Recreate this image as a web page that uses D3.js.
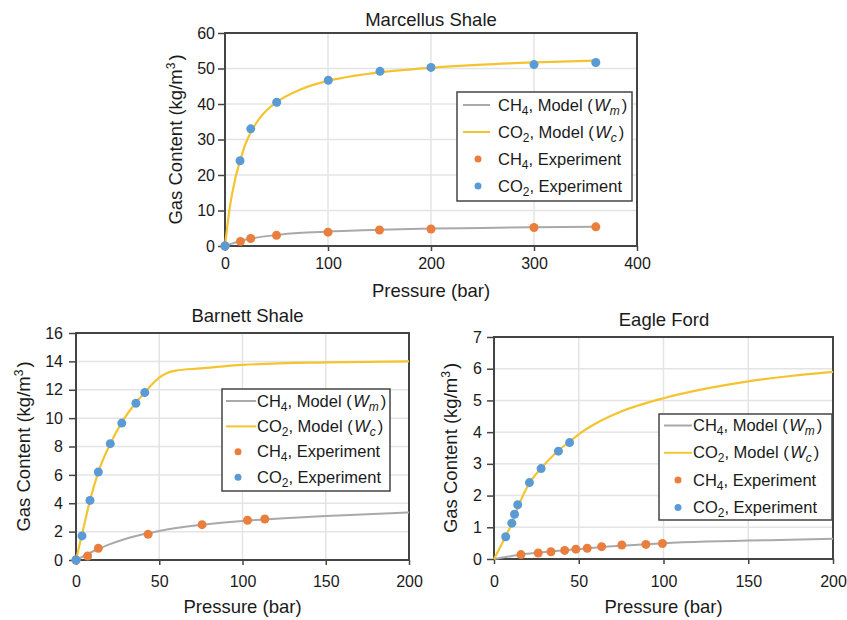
<!DOCTYPE html>
<html>
<head>
<meta charset="utf-8">
<script src="https://cdn.jsdelivr.net/npm/d3@7"></script>
<style>
  body { margin: 0; background: #fff; }
  svg { display: block; font-family: "Liberation Sans", Arial, Helvetica, sans-serif; }
</style>
</head>
<body>
<svg id="chart" width="847" height="620"></svg>
<script>
// --- Data: [pressure (bar), gas content (kg/m3)] ---
const marcellusCh4Model = [[0, 0], [5, 0.5], [10, 1.0], [15, 1.4], [25, 2.1], [50, 3.1], [75, 3.7], [100, 4.1], [150, 4.6], [200, 4.9], [250, 5.1], [300, 5.3], [360, 5.45]];
const marcellusCo2Model = [[0, 0], [5, 11.5], [10, 19], [15, 24.3], [20, 28.8], [25, 32], [35, 36.5], [50, 40.5], [75, 44.3], [100, 46.5], [125, 47.9], [150, 48.9], [200, 50.2], [250, 51.1], [300, 51.7], [360, 52.2]];
const marcellusCh4Exp = [[0, 0], [15, 1.3], [25, 2.1], [50, 3.0], [100, 3.9], [150, 4.5], [200, 4.8], [300, 5.2], [360, 5.4]];
const marcellusCo2Exp = [[0, 0], [14.6, 24], [25, 33], [50.2, 40.5], [100.3, 46.7], [150.5, 49.2], [200, 50.3], [300, 51.1], [360, 51.7]];

const barnettCh4Model = [[0, 0], [5, 0.3], [10, 0.6], [20, 1.1], [30, 1.5], [43, 1.88], [50, 2.05], [75, 2.47], [100, 2.75], [125, 2.95], [150, 3.1], [175, 3.22], [200, 3.35]];
const barnettCo2Model = [[0, 0], [3.6, 1.8], [8.4, 4.2], [13.4, 6.2], [20.6, 8.2], [27.5, 9.7], [36, 11.1], [41.3, 11.8], [45, 12.3], [50, 12.85], [55, 13.2], [60, 13.35], [75, 13.5], [100, 13.75], [150, 13.93], [200, 14.0]];
const barnettCh4Exp = [[0, 0], [7, 0.28], [13.4, 0.82], [43.3, 1.81], [75.7, 2.49], [103, 2.8], [113.4, 2.89]];
const barnettCo2Exp = [[0, 0], [3.6, 1.7], [8.4, 4.2], [13.4, 6.2], [20.6, 8.2], [27.5, 9.65], [36, 11.05], [41.3, 11.8]];

const eagleCh4Model = [[0, 0], [10, 0.09], [16, 0.14], [26, 0.2], [40, 0.27], [50, 0.31], [64, 0.38], [75, 0.42], [100, 0.5], [125, 0.55], [150, 0.58], [175, 0.61], [200, 0.64]];
const eagleCo2Model = [[0, 0], [6.9, 0.72], [10.5, 1.12], [14, 1.62], [20.8, 2.38], [27.8, 2.86], [38, 3.42], [45, 3.72], [50, 3.93], [60, 4.27], [75, 4.65], [100, 5.07], [125, 5.37], [150, 5.6], [175, 5.77], [200, 5.9]];
const eagleCh4Exp = [[15.9, 0.14], [26.1, 0.19], [33.6, 0.23], [41.7, 0.27], [48.3, 0.31], [55, 0.34], [63.5, 0.39], [75.4, 0.44], [89.6, 0.46], [99.4, 0.49]];
const eagleCo2Exp = [[6.9, 0.70], [10.5, 1.13], [12.1, 1.41], [14, 1.71], [20.9, 2.41], [27.8, 2.85], [38, 3.40], [44.6, 3.67]];

// tick labels
const marcellusXTicks = [0, 100, 200, 300, 400];
const marcellusYTicks = [0, 10, 20, 30, 40, 50, 60];
const barnettXTicks = [0, 50, 100, 150, 200];
const barnettYTicks = [0, 2, 4, 6, 8, 10, 12, 14, 16];
const eagleXTicks = [0, 50, 100, 150, 200];
const eagleYTicks = [0, 1, 2, 3, 4, 5, 6, 7];

// legend entries: text pieces, kind = sub / i / isub
const legendEntries = [
    { type: "line", color: "#a9a9a9", parts: [["CH"], ["4", "sub"], [", Model ("], ["W", "i"], ["m", "isub"], [")"]] },
    { type: "line", color: "#f4c430", parts: [["CO"], ["2", "sub"], [", Model ("], ["W", "i"], ["c", "isub"], [")"]] },
    { type: "dot", color: "#ea7f3d", parts: [["CH"], ["4", "sub"], [", Experiment"]] },
    { type: "dot", color: "#5b9bd5", parts: [["CO"], ["2", "sub"], [", Experiment"]] }
];

const COLORS = { ch4Line: "#a9a9a9", co2Line: "#f4c430", ch4Dot: "#ea7f3d", co2Dot: "#5b9bd5", frame: "#444", grid: "#e4e4e4" };

const svg = d3.select("#chart");

// --- Panels ---
const panels = [
    {
        title: "Marcellus Shale", titleX: 431, titleY: 25.5,
        left: 225, right: 637, top: 33, bottom: 246,
        xMax: 400, yMax: 60, xTicks: marcellusXTicks, yTicks: marcellusYTicks,
        xPad: 12, yPad: 10, xTitleY: 297, yTitleX: 182,
        ch4Model: marcellusCh4Model, co2Model: marcellusCo2Model, ch4Exp: marcellusCh4Exp, co2Exp: marcellusCo2Exp,
        legend: { x: 457, y: 92, w: 175, h: 109, row0: 105, step: 27, lineX0: 463, lineX1: 490, dotX: 478, textX: 498 }
    },
    {
        title: "Barnett Shale", titleX: 247.5, titleY: 322,
        left: 76, right: 409, top: 333, bottom: 560,
        xMax: 200, yMax: 16, xTicks: barnettXTicks, yTicks: barnettYTicks,
        xPad: 16, yPad: 13, xTitleY: 612.5, yTitleX: 30,
        ch4Model: barnettCh4Model, co2Model: barnettCo2Model, ch4Exp: barnettCh4Exp, co2Exp: barnettCo2Exp,
        legend: { x: 222, y: 389, w: 168, h: 102, row0: 401, step: 25.4, lineX0: 226, lineX1: 256, dotX: 238, textX: 257 }
    },
    {
        title: "Eagle Ford", titleX: 664, titleY: 326,
        left: 494, right: 833, top: 337, bottom: 559,
        xMax: 200, yMax: 7, xTicks: eagleXTicks, yTicks: eagleYTicks,
        xPad: 17, yPad: 12, xTitleY: 612.5, yTitleX: 457,
        ch4Model: eagleCh4Model, co2Model: eagleCo2Model, ch4Exp: eagleCh4Exp, co2Exp: eagleCo2Exp,
        legend: { x: 659, y: 414, w: 173, h: 106, row0: 425.5, step: 27.3, lineX0: 664, lineX1: 692, dotX: 678, textX: 693 }
    }
];

// writes text with sub/superscripts and italics as tspans
function richText(sel, parts, subSize) {
    let shift = 0;
    parts.forEach(([t, kind]) => {
        const ts = sel.append("tspan").text(t);
        let target = 0;
        if (kind && kind.includes("sub")) target = 4;
        if (kind === "sup") target = -7;
        ts.attr("dy", target - shift);
        shift = target;
        if (kind && kind !== "i") ts.attr("font-size", subSize);
        if (kind && kind.startsWith("i")) ts.attr("font-style", "italic");
        if (kind === "i") ts.attr("dx", 1.5);
        if (t === ")") ts.attr("dx", 2);
    });
}

function drawPanel(p) {
    const x = d3.scaleLinear().domain([0, p.xMax]).range([p.left, p.right]);
    const y = d3.scaleLinear().domain([0, p.yMax]).range([p.bottom, p.top]);
    const g = svg.append("g");

    // grid
    g.append("g").selectAll("line").data(p.xTicks).join("line")
        .attr("x1", d => x(d)).attr("x2", d => x(d))
        .attr("y1", p.top).attr("y2", p.bottom)
        .attr("stroke", COLORS.grid).attr("stroke-width", 1.5);
    g.append("g").selectAll("line").data(p.yTicks).join("line")
        .attr("x1", p.left).attr("x2", p.right)
        .attr("y1", d => y(d)).attr("y2", d => y(d))
        .attr("stroke", COLORS.grid).attr("stroke-width", 1.5);

    // axes
    const xAxis = g.append("g")
        .attr("transform", `translate(0,${p.bottom})`)
        .call(d3.axisBottom(x).tickValues(p.xTicks).tickFormat(d3.format("d")).tickSize(5).tickPadding(p.xPad - 5));
    const yAxis = g.append("g")
        .attr("transform", `translate(${p.left},0)`)
        .call(d3.axisLeft(y).tickValues(p.yTicks).tickFormat(d3.format("d")).tickSize(7).tickPadding(p.yPad - 7));
    [xAxis, yAxis].forEach(a => {
        a.select(".domain").remove();
        a.selectAll(".tick line").attr("stroke", COLORS.frame).attr("stroke-width", 1.5);
        a.selectAll(".tick text").attr("font-size", 16).attr("fill", "#1a1a1a")
            .attr("font-family", "Liberation Sans, Arial, sans-serif");
    });

    // frame
    g.append("rect")
        .attr("x", p.left).attr("y", p.top)
        .attr("width", p.right - p.left).attr("height", p.bottom - p.top)
        .attr("fill", "none").attr("stroke", COLORS.frame).attr("stroke-width", 2);

    // model curves
    const line = d3.line().x(d => x(d[0])).y(d => y(d[1])).curve(d3.curveMonotoneX);
    g.append("path").datum(p.ch4Model).attr("d", line)
        .attr("fill", "none").attr("stroke", COLORS.ch4Line).attr("stroke-width", 2);
    g.append("path").datum(p.co2Model).attr("d", line)
        .attr("fill", "none").attr("stroke", COLORS.co2Line).attr("stroke-width", 2.2);

    // experiment points
    g.append("g").selectAll("circle").data(p.ch4Exp).join("circle")
        .attr("cx", d => x(d[0])).attr("cy", d => y(d[1])).attr("r", 4.5)
        .attr("fill", COLORS.ch4Dot);
    g.append("g").selectAll("circle").data(p.co2Exp).join("circle")
        .attr("cx", d => x(d[0])).attr("cy", d => y(d[1])).attr("r", 4.5)
        .attr("fill", COLORS.co2Dot);

    // titles
    g.append("text").attr("x", p.titleX).attr("y", p.titleY)
        .attr("text-anchor", "middle").attr("font-size", 18.5).attr("fill", "#1a1a1a")
        .text(p.title);
    g.append("text").attr("x", (p.left + p.right) / 2).attr("y", p.xTitleY)
        .attr("text-anchor", "middle").attr("font-size", 18.5).attr("fill", "#1a1a1a")
        .text("Pressure (bar)");
    const yt = g.append("text")
        .attr("transform", `translate(${p.yTitleX},${(p.top + p.bottom) / 2}) rotate(-90)`)
        .attr("text-anchor", "middle").attr("font-size", 18.5).attr("fill", "#1a1a1a");
    richText(yt, [["Gas Content (kg/m"], ["3", "sup"], [")"]], 12);

    // legend
    const L = p.legend;
    const lg = g.append("g");
    lg.append("rect").attr("x", L.x).attr("y", L.y).attr("width", L.w).attr("height", L.h)
        .attr("fill", "#fff").attr("stroke", COLORS.frame).attr("stroke-width", 1.5);
    legendEntries.forEach((e, i) => {
        const cy = L.row0 + i * L.step;
        if (e.type === "line") {
            lg.append("line").attr("x1", L.lineX0).attr("x2", L.lineX1).attr("y1", cy).attr("y2", cy)
                .attr("stroke", e.color).attr("stroke-width", 2);
        } else {
            lg.append("circle").attr("cx", L.dotX).attr("cy", cy).attr("r", 3.5).attr("fill", e.color);
        }
        const t = lg.append("text").attr("x", L.textX).attr("y", cy + 5.5)
            .attr("font-size", 16.5).attr("fill", "#1a1a1a");
        richText(t, e.parts, 12);
    });
}

panels.forEach(drawPanel);
</script>
</body>
</html>
